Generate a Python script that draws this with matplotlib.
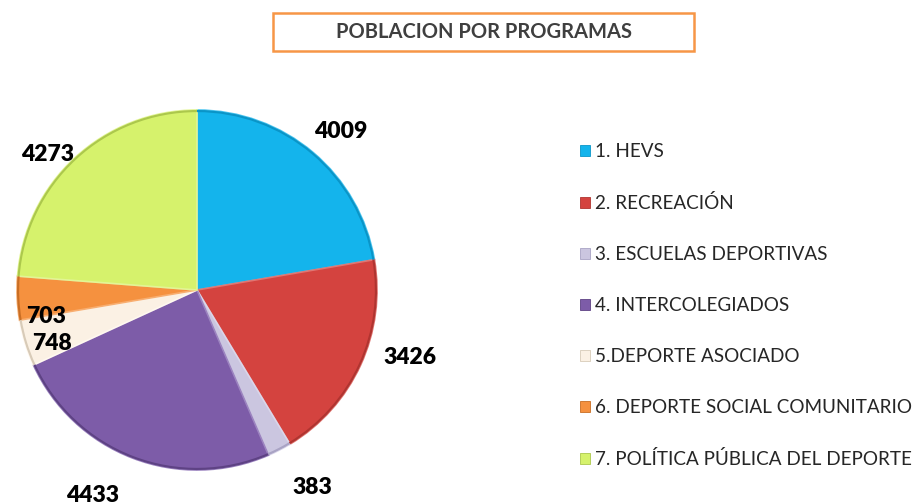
import numpy as np
import matplotlib
matplotlib.use("Agg")
import matplotlib.pyplot as plt
from matplotlib.patches import FancyBboxPatch, Rectangle

plt.rcParams['font.family'] = ['Lato', 'DejaVu Sans']

title = "POBLACION POR PROGRAMAS"
categories = ["1. HEVS", "2. RECREACIÓN", "3. ESCUELAS DEPORTIVAS",
              "4. INTERCOLEGIADOS", "5.DEPORTE ASOCIADO",
              "6. DEPORTE SOCIAL COMUNITARIO", "7. POLÍTICA PÚBLICA DEL DEPORTE"]
values = [4009, 3426, 383, 4433, 748, 703, 4273]

colors = ["#14B4EC", "#D4433F", "#CBC6E0", "#7D5CA8", "#FBF1E4", "#F5913F", "#D6F26C"]
edge_colors = ["#4FC6F0", "#E07672", "#DAD6EA", "#9C84C0", "#FFF8EF", "#F8AE70", "#E2F595"]
rim_colors = ["#0A95C8", "#B03430", "#A9A3C4", "#5E4284", "#D8CBB8", "#C96E24", "#ACC84C"]
label_r = [1.19, 1.24, 1.27, 1.28, 0.86, 0.85, 1.12]
label_off = [-2, 7, 3, -6, 3, 7.5, 5]

W, H = 919, 504
fig = plt.figure(figsize=(W / 100, H / 100), dpi=100)
ax = fig.add_axes([0, 0, 1, 1])

cx, cy, R = 197, H - 290, 180
wedges, _ = ax.pie(values, colors=colors, startangle=90, counterclock=False,
                   radius=R, center=(cx, cy), explode=[0.018] * len(values),
                   wedgeprops=dict(linewidth=1.2), frame=True)
for w, ec in zip(wedges, edge_colors):
    w.set_edgecolor(ec)
# darker thin rim along each arc
rims, _ = ax.pie(values, colors=['none'] * len(values), startangle=90,
                 counterclock=False, radius=R, center=(cx, cy),
                 explode=[0.018] * len(values),
                 wedgeprops=dict(width=R * 0.012, linewidth=0), frame=True)
for r, rc in zip(rims, rim_colors):
    r.set_facecolor(rc)
ax.set_xlim(0, W)
ax.set_ylim(0, H)
ax.set_aspect('equal')
ax.axis('off')

for w, v, rf, off in zip(wedges, values, label_r, label_off):
    mid = np.deg2rad((w.theta1 + w.theta2) / 2 + off)
    x = cx + R * rf * np.cos(mid)
    y = cy + R * rf * np.sin(mid)
    ax.text(x, y, f"{v}", ha='center', va='center', fontsize=16.5,
            fontweight='heavy', color='black')

# title box
box = FancyBboxPatch((273, H - 51), 421, 38, boxstyle="square,pad=0",
                     facecolor='white', edgecolor='#F79646', linewidth=1.8,
                     transform=ax.transData)
ax.add_patch(box)
ax.text(484, H - 32, title, ha='center', va='center', fontsize=14.5,
        fontweight='bold', color='#3F3F3F')

# legend
handles = [Rectangle((0, 0), 1, 1, facecolor=c, edgecolor=e, linewidth=0.6)
           for c, e in zip(colors, rim_colors)]
leg = ax.legend(handles, categories, loc='upper left',
                bbox_to_anchor=(580 / W, 1 - 143 / H), frameon=False,
                fontsize=13.6, handlelength=0.55, handleheight=0.55,
                handletextpad=0.25, labelspacing=1.8, borderaxespad=0,
                borderpad=0)
for t in leg.get_texts():
    t.set_color('#262626')

fig.savefig("out.png", dpi=100, facecolor='white')
